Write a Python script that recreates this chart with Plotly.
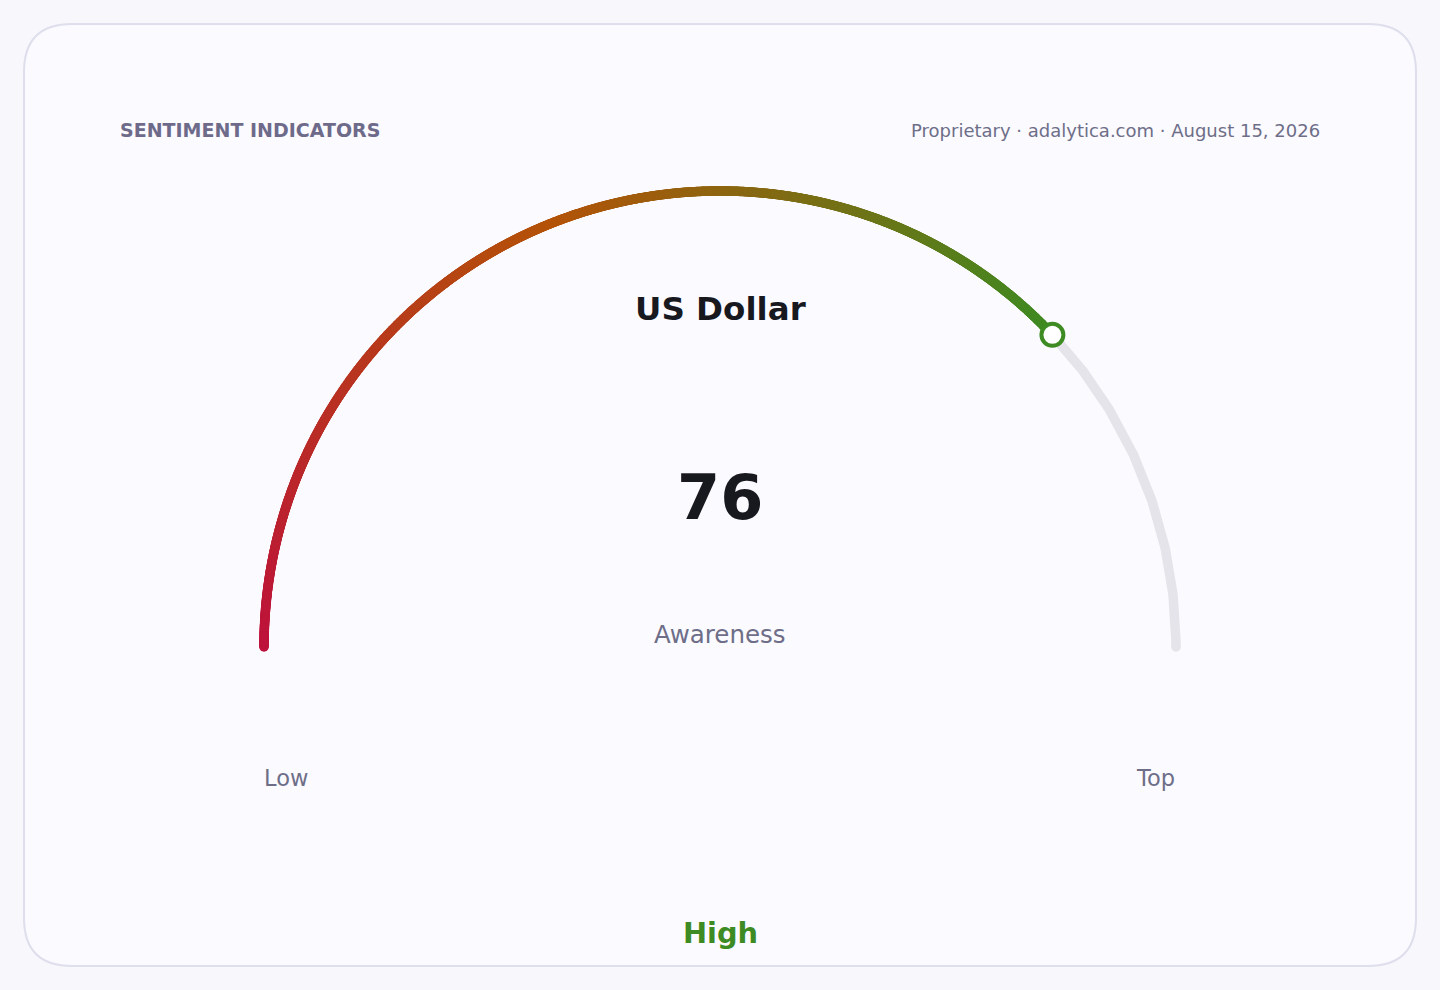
import numpy as np
import plotly.graph_objects as go

# ---------------- data ----------------
HEADER = "SENTIMENT INDICATORS"
SOURCE = "Proprietary · adalytica.com · August 15, 2026"
TITLE = "US Dollar"
METRIC = "Awareness"
LEVEL = "High"
SCALE_MIN = 0
SCALE_MAX = 100
VALUE = 76
LOW_LABEL = "Low"
HIGH_LABEL = "Top"
GRADIENT_POS = [0.0, 0.5, 1.0]
GRADIENT_COLORS = ["#be123c", "#b45309", "#3d8b22"]

# ---------------- style / geometry ----------------
W, H = 1440, 990
CX, CY, R = 720, 647, 456
STROKE = 9.5
TRACK = "#e4e4ea"
MUTED = "#6e6e88"
DARK = "#18181f"
FONT = "DejaVu Sans"


def angle(v):
    return np.pi * (1 - (v - SCALE_MIN) / (SCALE_MAX - SCALE_MIN))


def pt(v):
    a = angle(v)
    return CX + R * np.cos(a), CY - R * np.sin(a)


def hex2rgb(h):
    h = h.lstrip("#")
    return np.array([int(h[i:i + 2], 16) for i in (0, 2, 4)], float)


def interp_color(t):
    stops = [hex2rgb(c) for c in GRADIENT_COLORS]
    for i in range(len(GRADIENT_POS) - 1):
        p0, p1 = GRADIENT_POS[i], GRADIENT_POS[i + 1]
        if t <= p1 or i == len(GRADIENT_POS) - 2:
            f = 0 if p1 == p0 else min(max((t - p0) / (p1 - p0), 0), 1)
            c = stops[i] + (stops[i + 1] - stops[i]) * f
            return "rgb(%d,%d,%d)" % tuple(np.round(c))


fig = go.Figure()

# grey track (value -> max)
tv = np.linspace(VALUE, SCALE_MAX, 300)
tx, ty = zip(*[pt(v) for v in tv])
fig.add_trace(go.Scatter(x=tx, y=ty, mode="lines",
                         line=dict(color=TRACK, width=STROKE),
                         hoverinfo="skip", showlegend=False))
ex, ey = pt(SCALE_MAX)
fig.add_trace(go.Scatter(x=[ex], y=[ey], mode="markers",
                         marker=dict(color=TRACK, size=STROKE, line=dict(width=0)),
                         hoverinfo="skip", showlegend=False))

# gradient filled arc (min -> value)
n = 1400
fv = np.linspace(SCALE_MIN, VALUE, n)
fx, fy = zip(*[pt(v) for v in fv])
fcol = [interp_color(i / (n - 1)) for i in range(n)]
fig.add_trace(go.Scatter(x=fx, y=fy, mode="markers",
                         marker=dict(color=fcol, size=STROKE, line=dict(width=0)),
                         hoverinfo="skip", showlegend=False))

# value dot
vx, vy = pt(VALUE)
fig.add_trace(go.Scatter(x=[vx], y=[vy], mode="markers",
                         marker=dict(color="white", size=22,
                                     line=dict(color=GRADIENT_COLORS[-1], width=4)),
                         hoverinfo="skip", showlegend=False))

ann = []


def text(x, y, s, size, color, bold=False, xanchor="center"):
    ann.append(dict(x=x, y=y, xref="x", yref="y", text=("<b>%s</b>" % s) if bold else s,
                    showarrow=False, xanchor=xanchor, yanchor="middle",
                    font=dict(family=FONT, size=size, color=color)))


text(118, 130, HEADER, 19, "#6e6a8a", bold=True, xanchor="left")
text(1322, 130, SOURCE, 18, MUTED, xanchor="right")
text(CX, 309, TITLE, 32.5, DARK, bold=True)
text(CX, 497, str(VALUE), 62, DARK, bold=True)
text(CX, 634, METRIC, 24.5, MUTED)
lx, _ = pt(SCALE_MIN)
rx, _ = pt(SCALE_MAX)
text(lx - 2, 778, LOW_LABEL, 22.5, MUTED, xanchor="left")
text(rx + 1, 778, HIGH_LABEL, 22.5, MUTED, xanchor="right")
text(CX, 933, LEVEL, 28.8, GRADIENT_COLORS[-1], bold=True)

# rounded card
x0, y0, x1, y1, r = 24, 24, 1416, 966, 48
card = (f"M {x0+r},{y0} L {x1-r},{y0} Q {x1},{y0} {x1},{y0+r} "
        f"L {x1},{y1-r} Q {x1},{y1} {x1-r},{y1} L {x0+r},{y1} "
        f"Q {x0},{y1} {x0},{y1-r} L {x0},{y0+r} Q {x0},{y0} {x0+r},{y0} Z")

fig.update_layout(
    width=W, height=H, margin=dict(l=0, r=0, t=0, b=0),
    paper_bgcolor="#f8f8fc", plot_bgcolor="rgba(0,0,0,0)",
    xaxis=dict(range=[0, W], visible=False, fixedrange=True),
    yaxis=dict(range=[H, 0], visible=False, fixedrange=True),
    shapes=[dict(type="path", path=card, xref="x", yref="y",
                 line=dict(color="#dedeec", width=2), fillcolor="#fafaff", layer="below")],
    annotations=ann,
    font=dict(family=FONT),
)

fig.write_html("out.html", config={"displayModeBar": False},
               post_script="document.body.style.margin='0';document.body.style.overflow='hidden';")
